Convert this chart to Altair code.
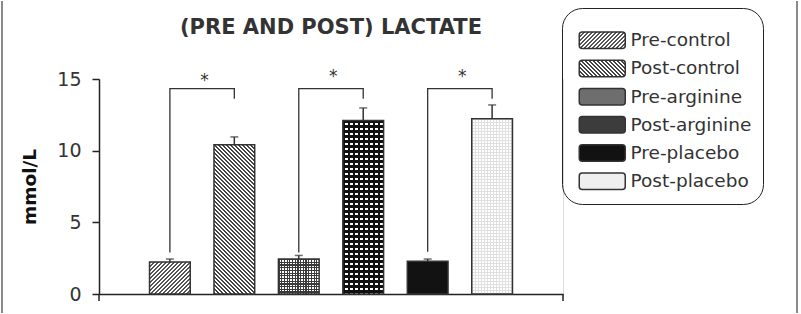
import math
import json
import altair as alt
import pandas as pd

# ---------------- data ----------------
categories = ["Pre-control", "Post-control", "Pre-arginine",
              "Post-arginine", "Pre-placebo", "Post-placebo"]
means = [2.23, 10.42, 2.44, 12.11, 2.28, 12.23]
sems = [0.21, 0.54, 0.25, 0.87, 0.16, 0.96]

pairs_pre = ["Pre-control", "Pre-arginine", "Pre-placebo"]
pairs_post = ["Post-control", "Post-arginine", "Post-placebo"]
bracket_left_low = [2.90, 2.90, 2.95]
bracket_top = [14.33, 14.33, 14.33]
bracket_right_low = [13.63, 13.63, 13.63]
star_y = [15.14, 15.42, 15.42]

y_ticks = [0, 5, 10, 15]
y_max = 15
title_text = "(PRE AND POST) LACTATE"
y_title = "mmol/L"

# ---------------- layout / style ----------------
W, H = 464, 215
PI, PO = 0.368, 0.784
FONT = "DejaVu Sans"
step = W / (len(categories) - PI + 2 * PO)
bw = step * (1 - PI)
TRANSP = "rgba(0,0,0,0)"

df = pd.DataFrame({"cond": categories, "mean": means, "sem": sems})
df["top"] = df["mean"] + df["sem"]

rows = []
for g, (a, b) in enumerate(zip(pairs_pre, pairs_post)):
    rows += [
        {"grp": g, "ord": 0, "cond": a, "val": bracket_left_low[g]},
        {"grp": g, "ord": 1, "cond": a, "val": bracket_top[g]},
        {"grp": g, "ord": 2, "cond": b, "val": bracket_top[g]},
        {"grp": g, "ord": 3, "cond": b, "val": bracket_right_low[g]},
    ]
br = pd.DataFrame(rows)
stars = pd.DataFrame({"cond": pairs_pre, "val": star_y})


def stripe_stops(L, period, duty, on, off):
    stops = []
    n = int(math.ceil(L / period))
    for i in range(n):
        s = i * period / L
        m = min((i + duty) * period / L, 1.0)
        e = min((i + 1) * period / L, 1.0)
        stops += [(s, on), (m, on), (m, off), (e, off)]
    return [{"offset": round(o, 5), "color": c} for o, c in stops]


def diag(w, h, period, duty, on, off, back=False):
    L = w + h
    k = L / (w * w + h * h)
    a, b = w * k, h * k
    if back:
        x1, y1, x2, y2 = 1, 0, 1 - a, b
    else:
        x1, y1, x2, y2 = 0, 0, a, b
    return {"gradient": "linear", "x1": round(x1, 5), "y1": round(y1, 5),
            "x2": round(x2, 5), "y2": round(y2, 5),
            "stops": stripe_stops(L, period, duty, on, off)}


def vstripes(w, period, duty, on, off):
    return {"gradient": "linear", "x1": 0, "y1": 0, "x2": 1, "y2": 0,
            "stops": stripe_stops(w, period, duty, on, off)}


def hstripes(h, period, duty, on, off):
    return {"gradient": "linear", "x1": 0, "y1": 0, "x2": 0, "y2": 1,
            "stops": stripe_stops(h, period, duty, on, off)}


X = alt.X("cond:N", sort=categories,
          scale=alt.Scale(domain=categories, paddingInner=PI, paddingOuter=PO),
          axis=alt.Axis(labels=False, ticks=False, title="", grid=False,
                        domainColor="#222", domainWidth=1.5))
yaxis = alt.Axis(values=y_ticks, tickSize=7, tickWidth=1.5, tickColor="#222",
                 domainColor="#222", domainWidth=1.5, grid=False,
                 labelFont=FONT, labelFontSize=19, labelColor="#333", labelPadding=11,
                 title=y_title, titleFont=FONT, titleFontSize=18.5,
                 titleFontWeight="bold", titleColor="#111", titlePadding=17)
yscale = alt.Scale(domain=[0, y_max], nice=False, zero=True)


def Y(field):
    return alt.Y(field, type="quantitative", scale=yscale, axis=yaxis)


deco = alt.Chart(pd.DataFrame({"k": [0]}))
base = alt.Chart(df)
layers = []
# plain white strip along the top edge of the plot area
layers.append(deco.mark_rule(color="white", strokeWidth=2).encode(
    x=alt.value(1.5), x2=alt.value(W), y=alt.value(0)))

for cat, v in zip(categories, means):
    h = v * H / y_max
    if cat == "Pre-control":
        fills = [diag(bw, h, 4.0, 0.45, "#555555", "#ffffff")]
    elif cat == "Post-control":
        fills = [diag(bw, h, 4.0, 0.5, "#444444", "#ffffff", back=True)]
    elif cat == "Pre-arginine":
        fills = [vstripes(bw, 2.7, 0.45, "#3a3a3a", "#ffffff"),
                 hstripes(h, 2.7, 0.45, "#3a3a3a", TRANSP)]
    elif cat == "Post-arginine":
        fills = [vstripes(bw, 5.0, 0.45, "#111111", "#ffffff"),
                 hstripes(h, 5.0, 0.45, "#111111", TRANSP)]
    elif cat == "Pre-placebo":
        fills = ["#121212"]
    else:
        fills = [vstripes(bw, 3.0, 0.4, "#e0e0e0", "#ffffff"),
                 hstripes(h, 3.0, 0.4, "#e0e0e0", TRANSP)]
    for f in fills:
        layers.append(base.transform_filter(alt.datum.cond == cat)
                      .mark_bar(fill=f, strokeWidth=0)
                      .encode(x=X, y=Y("mean")))

layers.append(base.mark_bar(fillOpacity=0, stroke="#333", strokeWidth=1.5)
              .encode(x=X, y=Y("mean")))

SW, SH = 46, 16.5
legend_range = [
    {"expr": json.dumps(diag(SW, SH, 4.0, 0.45, "#555555", "#ffffff"))},
    {"expr": json.dumps(diag(SW, SH, 4.0, 0.5, "#444444", "#ffffff", back=True))},
    "#6e6e6e", "#3c3c3c", "#121212", "#efefef",
]

u = 8.0  # sqrt(symbolSize)/2
x0, x1s = -1.0, -1.0 + SW / u
yh = (SH / 2) / u
r = 3 / u
sym_path = (f"M{x0 + r},{-yh}H{x1s - r}Q{x1s},{-yh} {x1s},{-yh + r}V{yh - r}"
            f"Q{x1s},{yh} {x1s - r},{yh}H{x0 + r}Q{x0},{yh} {x0},{yh - r}"
            f"V{-yh + r}Q{x0},{-yh} {x0 + r},{-yh}Z")

legend = alt.Legend(
    orient="none", legendX=463, legendY=-71, title=" ", titleFontSize=1,
    titlePadding=11, padding=11, cornerRadius=20, strokeColor="#222",
    symbolType=sym_path, symbolOpacity=1,
    symbolStrokeColor="#333", symbolStrokeWidth=1.5, symbolSize=256,
    symbolOffset=5, labelOffset=34,
    labelFont=FONT, labelFontSize=18.5, labelColor="#333", rowPadding=5.2,
)

legend_pts = base.mark_point(opacity=0, filled=True, size=1).encode(
    x=X, y=Y("mean"),
    fill=alt.Fill("cond:N", sort=categories,
                  scale=alt.Scale(domain=categories, range=legend_range),
                  legend=legend))
layers.append(legend_pts)

err = base.mark_rule(color="#333", strokeWidth=1.5).encode(
    x=X, y=Y("mean"), y2="top:Q")
cap = base.mark_tick(orient="horizontal", size=8, thickness=1.5, color="#333").encode(
    x=X, y=Y("top"))
brackets = alt.Chart(br).mark_line(color="#333", strokeWidth=1.3).encode(
    x=X, y=Y("val"), detail="grp:N", order="ord:Q")
star = alt.Chart(stars).mark_text(text="*", dx=34.5, dy=9, baseline="alphabetic",
                                  font=FONT, fontSize=17, color="#333").encode(
    x=X, y=Y("val"))

end_l = deco.mark_rule(color="#222", strokeWidth=1.5).encode(
    x=alt.value(0), y=alt.value(H), y2=alt.value(H + 7))
end_r = deco.mark_rule(color="#222", strokeWidth=1.5).encode(
    x=alt.value(W), y=alt.value(H), y2=alt.value(H + 7))
frame_l = deco.mark_rule(color="#8a8a8a", strokeWidth=2).encode(
    x=alt.value(-97), y=alt.value(-78), y2=alt.value(234))
frame_r = deco.mark_rule(color="#8a8a8a", strokeWidth=2).encode(
    x=alt.value(698), y=alt.value(-78), y2=alt.value(234))

chart = alt.layer(*layers, err, cap, brackets, star, end_l, end_r, frame_l, frame_r).properties(
    width=W, height=H,
    padding={"left": 1, "top": 0, "right": 0, "bottom": 0},
    title=alt.TitleParams(text=title_text, font=FONT, fontSize=21, fontWeight="bold",
                          color="#333", anchor="middle", frame="group",
                          baseline="alphabetic", offset=-55),
).configure_view(stroke="transparent", strokeWidth=0).configure_axis(
    grid=False).configure_legend(
    strokeWidth=1.5).configure(background="white")

chart.save("out.html", embed_options={"renderer": "svg", "actions": False})
